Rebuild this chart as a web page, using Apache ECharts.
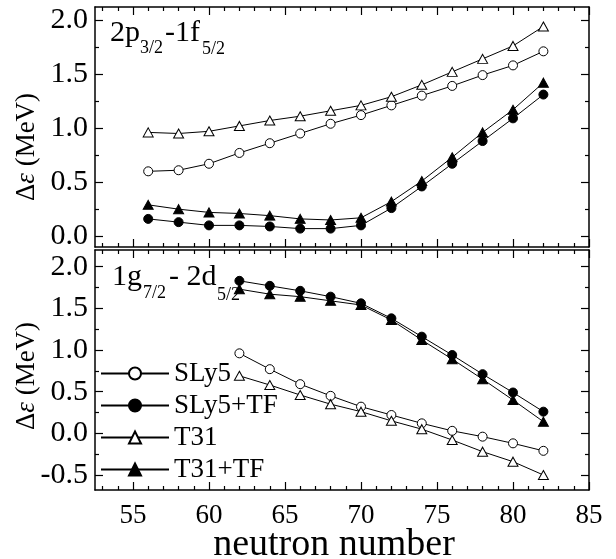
<!DOCTYPE html>
<html>
<head>
<meta charset="utf-8">
<script src="https://cdn.jsdelivr.net/npm/echarts@6/dist/echarts.min.js"></script>
<style>html,body{margin:0;padding:0;background:#fff}#c{width:616px;height:559px}</style>
</head>
<body>
<div id="c"></div>
<script>
// ---- data ----
const topN = [56, 58, 60, 62, 64, 66, 68, 70, 72, 74, 76, 78, 80, 82];
const topSLy5   = [0.60, 0.61, 0.67, 0.77, 0.86, 0.95, 1.04, 1.12, 1.21, 1.30, 1.39, 1.49, 1.58, 1.71];
const topSLy5TF = [0.16, 0.13, 0.10, 0.10, 0.09, 0.07, 0.07, 0.10, 0.26, 0.46, 0.67, 0.88, 1.09, 1.31];
const topT31    = [0.96, 0.95, 0.97, 1.02, 1.07, 1.11, 1.16, 1.21, 1.29, 1.40, 1.52, 1.64, 1.76, 1.94];
const topT31TF  = [0.29, 0.25, 0.22, 0.21, 0.19, 0.16, 0.15, 0.17, 0.32, 0.51, 0.73, 0.96, 1.17, 1.42];

const botN = [62, 64, 66, 68, 70, 72, 74, 76, 78, 80, 82];
const botSLy5   = [0.96, 0.77, 0.59, 0.45, 0.32, 0.22, 0.12, 0.03, -0.04, -0.12, -0.21];
const botSLy5TF = [1.83, 1.77, 1.71, 1.64, 1.56, 1.38, 1.16, 0.94, 0.71, 0.49, 0.26];
const botT31    = [0.69, 0.58, 0.46, 0.35, 0.26, 0.15, 0.05, -0.08, -0.22, -0.34, -0.50];
const botT31TF  = [1.73, 1.67, 1.64, 1.59, 1.54, 1.36, 1.12, 0.89, 0.65, 0.40, 0.14];

const seriesNames = ['SLy5', 'SLy5+TF', 'T31', 'T31+TF'];

// ---- ticks ----
const xMajor = [55, 60, 65, 70, 75, 80, 85];
const xMinor = [53, 54, 56, 57, 58, 59, 61, 62, 63, 64, 66, 67, 68, 69, 71, 72, 73, 74, 76, 77, 78, 79, 81, 82, 83, 84];
const yTopMajor = [0, 0.5, 1, 1.5, 2];
const yTopMinor = [0.25, 0.75, 1.25, 1.75];
const yBotMajor = [-0.5, 0, 0.5, 1, 1.5, 2];
const yBotMinor = [-0.25, 0.25, 0.75, 1.25, 1.75];

const FONT = "'Liberation Serif', 'Times New Roman', Times, serif";
const xRange = [52.5, 85];
const yTopRange = [-0.1, 2.12];
const yBotRange = [-0.68, 2.2];

function xAx(grid, pos, ticks, len, line, labels) {
  return {
    type: 'value', gridIndex: grid, position: pos, min: xRange[0], max: xRange[1],
    axisLine: {show: line, onZero: false, lineStyle: {color: '#000', width: 1.5}},
    axisTick: {show: true, inside: true, length: len, customValues: ticks, lineStyle: {color: '#000', width: 1.2}},
    axisLabel: {show: !!labels, customValues: labels || ticks, color: '#000', fontFamily: FONT, fontSize: 27, margin: 12},
    splitLine: {show: false}
  };
}
function yAx(grid, pos, range, ticks, len, line, labels) {
  return {
    type: 'value', gridIndex: grid, position: pos, min: range[0], max: range[1],
    axisLine: {show: line, onZero: false, lineStyle: {color: '#000', width: 1.5}},
    axisTick: {show: true, inside: true, length: len, customValues: ticks, lineStyle: {color: '#000', width: 1.2}},
    axisLabel: {show: !!labels, customValues: labels || ticks, color: '#000', fontFamily: FONT, fontSize: 30, margin: 7,
      formatter: v => Number(v).toFixed(1)},
    splitLine: {show: false}
  };
}

const xAxes = [
  xAx(0, 'bottom', xMajor, 8, true, null), xAx(0, 'bottom', xMinor, 4, false, null),
  xAx(0, 'top', xMajor, 8, true, null), xAx(0, 'top', xMinor, 4, false, null),
  xAx(1, 'bottom', xMajor, 8, true, xMajor), xAx(1, 'bottom', xMinor, 4, false, null),
  xAx(1, 'top', xMajor, 8, true, null), xAx(1, 'top', xMinor, 4, false, null)
];
const yAxes = [
  yAx(0, 'left', yTopRange, yTopMajor, 8, true, yTopMajor), yAx(0, 'left', yTopRange, yTopMinor, 4, false, null),
  yAx(0, 'right', yTopRange, yTopMajor, 8, true, null), yAx(0, 'right', yTopRange, yTopMinor, 4, false, null),
  yAx(1, 'left', yBotRange, yBotMajor, 8, true, yBotMajor), yAx(1, 'left', yBotRange, yBotMinor, 4, false, null),
  yAx(1, 'right', yBotRange, yBotMajor, 8, true, null), yAx(1, 'right', yBotRange, yBotMinor, 4, false, null)
];

function mk(name, grid, xs, ys, symbol, filled) {
  return {
    name, type: 'line', xAxisIndex: grid * 4, yAxisIndex: grid * 4,
    data: xs.map((x, i) => [x, ys[i]]),
    symbol, symbolSize: symbol === 'circle' ? 9 : [10, 9],
    showSymbol: true, showAllSymbol: true,
    itemStyle: {color: filled ? '#000' : '#fff', borderColor: '#000', borderWidth: 1},
    lineStyle: {color: '#000', width: 1},
    emphasis: {disabled: true}, animation: false
  };
}
const series = [
  mk(seriesNames[0], 0, topN, topSLy5, 'circle', false), mk(seriesNames[1], 0, topN, topSLy5TF, 'circle', true),
  mk(seriesNames[2], 0, topN, topT31, 'triangle', false), mk(seriesNames[3], 0, topN, topT31TF, 'triangle', true),
  mk(seriesNames[0], 1, botN, botSLy5, 'circle', false), mk(seriesNames[1], 1, botN, botSLy5TF, 'circle', true),
  mk(seriesNames[2], 1, botN, botT31, 'triangle', false), mk(seriesNames[3], 1, botN, botT31TF, 'triangle', true)
];
function ytitle(y) {
  return {type: 'text', x: 27, y: y, rotation: Math.PI / 2,
    style: {text: '{a|Δ}{b|ε}{a| (MeV)}', align: 'center', verticalAlign: 'middle',
      rich: {a: {fontFamily: FONT, fontSize: 27, fill: '#000'}, b: {fontFamily: FONT, fontSize: 27, fontStyle: 'italic', fill: '#000'}}}};
}
// baseline -> middle-anchored y
function txt(x, baseline, s, size) {
  return {type: 'text', x, y: baseline - 0.3375 * size,
    style: {text: s, fontFamily: FONT, fontSize: size, fill: '#000', align: 'left', verticalAlign: 'middle'}};
}
const chart = echarts.init(document.getElementById('c'), null, {renderer: 'canvas'});
chart.setOption({
  backgroundColor: '#fff', animation: false, textStyle: {fontFamily: FONT},
  grid: [{left: 95, top: 7, width: 494, height: 240}, {left: 95, top: 250, width: 494, height: 240}],
  xAxis: xAxes, yAxis: yAxes,
  legend: {data: seriesNames, orient: 'vertical', left: 100, top: 360, padding: 0, itemWidth: 68, itemHeight: 15, itemGap: 5,
    textStyle: {fontFamily: FONT, fontSize: 27, color: '#000'}, selectedMode: false},
  series: series,
  graphic: [
    ytitle(147), ytitle(376),
    {type: 'text', x: 334, y: 545, style: {text: 'neutron number', fontFamily: FONT, fontSize: 38, fill: '#000', align: 'center', verticalAlign: 'middle'}},
    txt(110, 43, '2p', 30), txt(140, 54, '3/2', 18), txt(165, 43, '-1f', 30), txt(202, 55, '5/2', 18),
    txt(112, 287, '1g', 30), txt(143, 299, '7/2', 18), txt(169, 287, '- 2d', 30), txt(217, 301, '5/2', 18)
  ]
});
</script>
</body>
</html>
